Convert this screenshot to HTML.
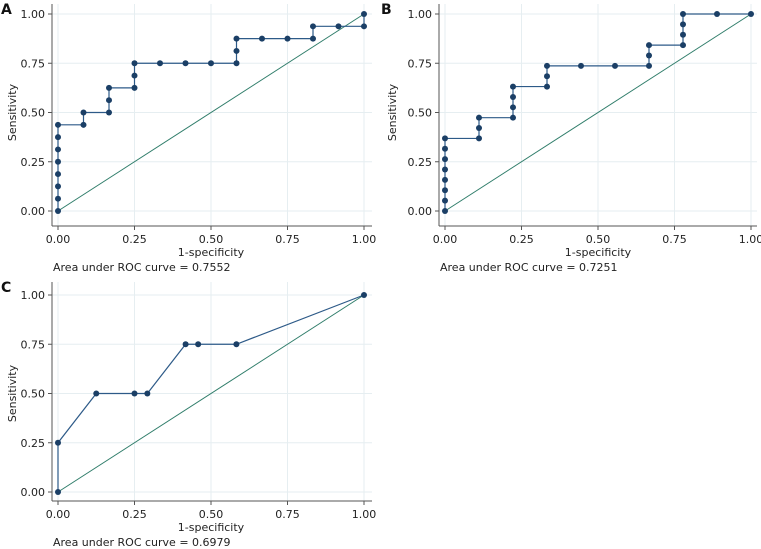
<!DOCTYPE html>
<html><head><meta charset="utf-8"><style>
body{margin:0;background:#fff;width:761px;height:549px;overflow:hidden}
svg{display:block;font-family:"DejaVu Sans","Liberation Sans",sans-serif}
</style></head><body>
<svg id="s" width="761" height="549"></svg>
<script>
const ticks=[0,0.25,0.5,0.75,1];
const tickLabels=["0.00","0.25","0.50","0.75","1.00"];
const aX=[0,0,0,0,0,0,0,0,1/12,1/12,2/12,2/12,2/12,3/12,3/12,3/12,4/12,5/12,6/12,7/12,7/12,7/12,8/12,9/12,10/12,10/12,11/12,1,1];
const aY=[0,1/16,2/16,3/16,4/16,5/16,6/16,7/16,7/16,8/16,8/16,9/16,10/16,10/16,11/16,12/16,12/16,12/16,12/16,12/16,13/16,14/16,14/16,14/16,14/16,15/16,15/16,15/16,1];
const bX=[0,0,0,0,0,0,0,0,1/9,1/9,1/9,2/9,2/9,2/9,2/9,3/9,3/9,3/9,4/9,5/9,6/9,6/9,6/9,7/9,7/9,7/9,7/9,8/9,1];
const bY=[0,1/19,2/19,3/19,4/19,5/19,6/19,7/19,7/19,8/19,9/19,9/19,10/19,11/19,12/19,12/19,13/19,14/19,14/19,14/19,14/19,15/19,16/19,16/19,17/19,18/19,1,1,1];
const cX=[0,0,0.125,0.25,0.292,0.417,0.458,0.583,1];
const cY=[0,0.25,0.5,0.5,0.5,0.75,0.75,0.75,1];
const aucs=["0.7552","0.7251","0.6979"];
const NS="http://www.w3.org/2000/svg";
const svg=document.getElementById('s');
function mk(t,at,p){const e=document.createElementNS(NS,t);for(const k in at)e.setAttribute(k,at[k]);(p||svg).appendChild(e);return e;}
function panel(letter,ox,oy,x0,x1,y0,y1,xs,ys,auc,fl,fr,fb){
  const g=mk('g',{});
  
  
  const sx=v=>x0+(x1-x0)*v, sy=v=>y0+(y1-y0)*v;
  ticks.forEach((t,i)=>{
    const gv=mk('line',{x1:sx(t),x2:sx(t),y1:fb,y2:oy,stroke:'#e6eef1','stroke-width':1},g);
    
    const gh=mk('line',{x1:fl,x2:fr,y1:sy(t),y2:sy(t),stroke:'#e6eef1','stroke-width':1},g);
    
    mk('line',{x1:fl-4,x2:fl,y1:sy(t),y2:sy(t),stroke:'#555'},g);
    mk('line',{x1:sx(t),x2:sx(t),y1:fb,y2:fb+4,stroke:'#555'},g);
    const yl=mk('text',{x:fl-7,y:sy(t)+4,'text-anchor':'end','font-size':11,fill:'#222'},g);yl.textContent=tickLabels[i];
    
    const xl=mk('text',{x:sx(t),y:fb+17,'text-anchor':'middle','font-size':11,fill:'#222'},g);xl.textContent=tickLabels[i];
    
  });
  mk('line',{x1:fl,x2:fl,y1:oy,y2:fb,stroke:'#555'},g);
  mk('line',{x1:fl,x2:fr,y1:fb,y2:fb,stroke:'#555'},g);
  const d=mk('line',{x1:sx(0),y1:sy(0),x2:sx(1),y2:sy(1),stroke:'#2f7d6a','stroke-width':1},g);
  
  const pl=mk('polyline',{points:xs.map((x,i)=>sx(x)+','+sy(ys[i])).join(' '),fill:'none',stroke:'#2d5a88','stroke-width':1.2},g);
  
  xs.forEach((x,i)=>{const c=mk('circle',{cx:sx(x),cy:sy(ys[i]),r:3,fill:'#1b3f66'},g);
    });
  const L=mk('text',{x:ox+1,y:oy+10,'font-size':14,'font-weight':'bold',fill:'#111'},g);L.textContent=letter;
  
  const xt=mk('text',{x:(sx(0)+sx(1))/2,y:fb+30,'text-anchor':'middle','font-size':11,fill:'#222'},g);xt.textContent='1-specificity';
  
  const yt=mk('text',{x:0,y:0,'text-anchor':'middle','font-size':11,fill:'#222',transform:`translate(${ox+16},${(sy(0)+sy(1))/2}) rotate(-90)`},g);yt.textContent='Sensitivity';
  
  const at=mk('text',{x:fl+1,y:fb+45,'font-size':11,fill:'#222'},g);at.textContent='Area under ROC curve = '+auc;
  
}
panel('A',0,4,58,364,211,14,aX,aY,aucs[0],52,372,226);
panel('B',380,4,445,751,211,14,bX,bY,aucs[1],439,757,226);
panel('C',0,282,58,364,492,295,cX,cY,aucs[2],52,372,501);
</script>
</body></html>
